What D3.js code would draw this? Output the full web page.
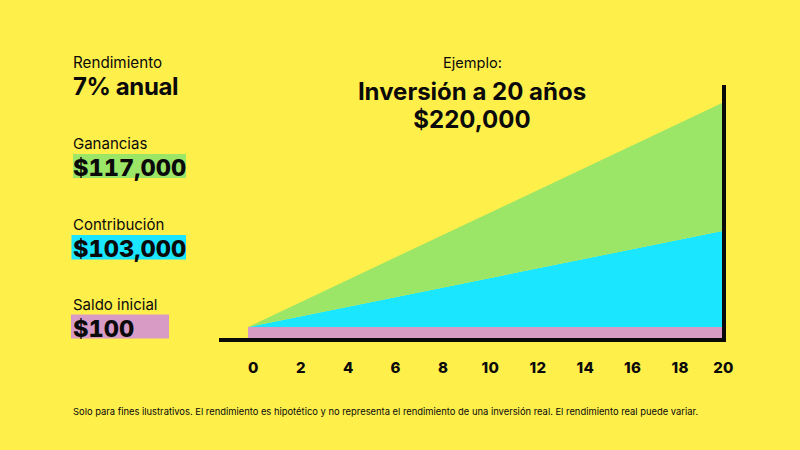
<!DOCTYPE html>
<html><head><meta charset="utf-8">
<script src="https://cdn.jsdelivr.net/npm/d3@7"></script>
<style>html,body{margin:0;padding:0;background:#FFEF4A}svg{display:block}text{font-family:Inter,sans-serif;fill:#0a0a0a}</style>
</head><body><svg id="c" width="800" height="450"></svg>
<script>
const years=[0,20];
const tickYears=[0,2,4,6,8,10,12,14,16,18,20];
const saldoDrawn=[10300,10300];
const contribucionDrawn=[0,89900];
const gananciasDrawn=[0,119800];
const colors=["#D79BC6","#1AE6FF","#9CE667"];
const legendLabels=["Ganancias","Contribución","Saldo inicial"];
const legendValues=["$117,000","$103,000","$100"];
const legendColors=["#9CE667","#1AE6FF","#D79BC6"];
const footnote="Solo para fines ilustrativos. El rendimiento es hipotético y no representa el rendimiento de una inversión real. El rendimiento real puede variar.";

const svg=d3.select("#c");
const x=d3.scaleLinear().domain([0,20]).range([248,722]);
const y=d3.scaleLinear().domain([0,220000]).range([338,103]);
const table=years.map((t,i)=>({t,saldo:saldoDrawn[i],contribucion:contribucionDrawn[i],ganancias:gananciasDrawn[i]}));
const series=d3.stack().keys(["saldo","contribucion","ganancias"])(table);
const area=d3.area().x(d=>x(d.data.t)).y0(d=>y(d[0])).y1(d=>y(d[1]));
svg.selectAll("path.a").data(series).join("path").attr("class","a").attr("d",area).attr("fill",(d,i)=>colors[i]);

svg.append("line").attr("x1",219).attr("x2",726).attr("y1",340).attr("y2",340).attr("stroke","#0a0a0a").attr("stroke-width",4);
svg.append("line").attr("x1",724).attr("x2",724).attr("y1",85).attr("y2",342).attr("stroke","#0a0a0a").attr("stroke-width",4);

const ax=d3.axisBottom(x).tickValues(tickYears).tickSize(0).tickPadding(0).tickFormat(d3.format("d"));
const g=svg.append("g").attr("transform","translate(0,358)").call(ax);
g.select(".domain").remove();
g.selectAll("text").attr("dy",0).attr("y",15).attr("font-size",15).attr("font-weight",800)
 .attr("text-anchor","middle").attr("dx",d=>d===20?1:5).style("letter-spacing","0.4px");

function t(s,xp,yp,size,weight,anchor){return svg.append("text").text(s).attr("x",xp).attr("y",yp).attr("font-size",size).attr("font-weight",weight).attr("text-anchor",anchor||"start");}
t("Rendimiento",73,68,15.2,400);
t("7% anual",73,95,24,700).style("letter-spacing","-0.4px");
t("Ejemplo:",472.5,68,14.6,400,"middle");
t("Inversión a 20 años",472,100,24,700,"middle");
t("$220,000",472,128,24,700,"middle");

const boxes=[[73,154,186,178],[71.5,235,186,259.5],[71,314.5,169,338.5]];
const labelY=[149,230,310], valueY=[176,256.5,336.5];
legendLabels.forEach((s,i)=>{
  const b=boxes[i];
  svg.append("rect").attr("x",b[0]).attr("y",b[1]).attr("width",b[2]-b[0]).attr("height",b[3]-b[1]).attr("fill",legendColors[i]);
  t(s,73,labelY[i],15,400);
  t(legendValues[i],73,valueY[i],23.6,800).style("font-variant-numeric","tabular-nums");
});
t(footnote,73,415,9.4,400);
</script></body></html>
